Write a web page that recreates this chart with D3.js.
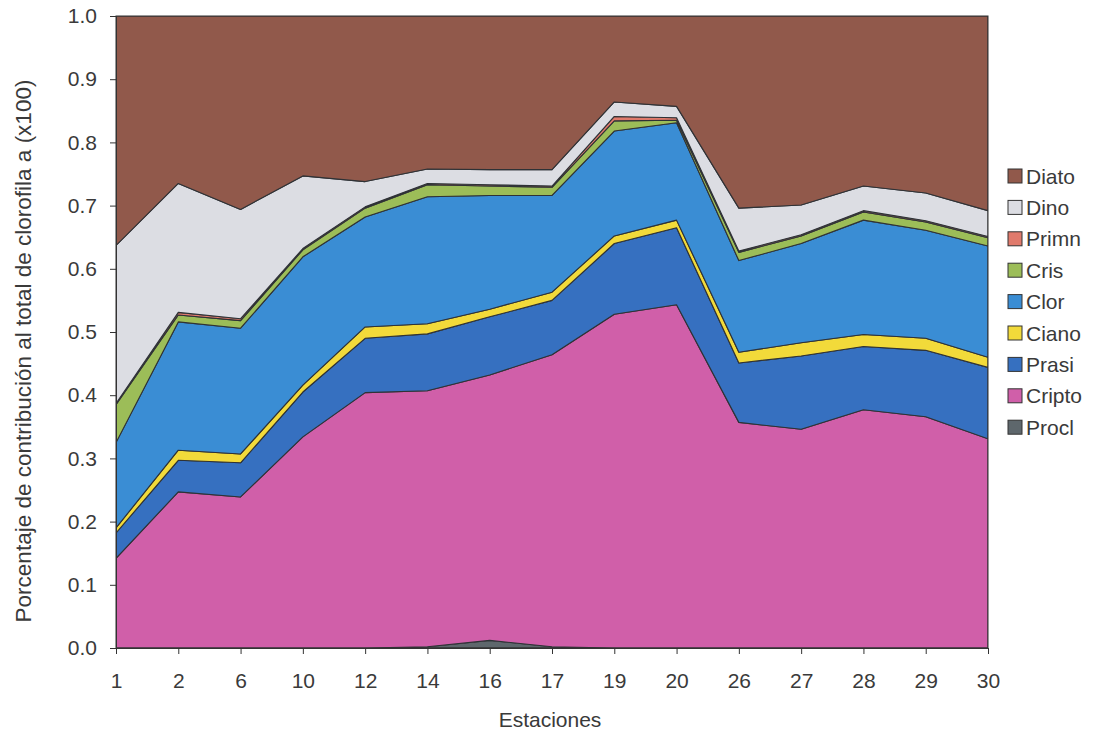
<!DOCTYPE html>
<html>
<head>
<meta charset="utf-8">
<script src="https://cdn.jsdelivr.net/npm/d3@7"></script>
<style>
  html, body { margin: 0; padding: 0; background: #ffffff; }
  svg { display: block; font-family: Arial, "Liberation Sans", sans-serif; }
</style>
</head>
<body>
<svg id="chart" width="1097" height="733"></svg>
<script>
// Stations sampled along the transect
const estaciones = ["1", "2", "6", "10", "12", "14", "16", "17", "19", "20", "26", "27", "28", "29", "30"];

// Fractional contribution of each pigment group to total chlorophyll a
const procl  = [0.000, 0.000, 0.000, 0.000, 0.000, 0.002, 0.012, 0.002, 0.000, 0.000, 0.000, 0.000, 0.000, 0.000, 0.000];
const cripto = [0.142, 0.247, 0.239, 0.334, 0.404, 0.405, 0.420, 0.462, 0.528, 0.543, 0.357, 0.346, 0.377, 0.366, 0.331];
const prasi  = [0.040, 0.050, 0.054, 0.071, 0.086, 0.090, 0.092, 0.086, 0.112, 0.122, 0.094, 0.116, 0.100, 0.105, 0.113];
const ciano  = [0.008, 0.016, 0.014, 0.011, 0.018, 0.016, 0.012, 0.013, 0.012, 0.012, 0.017, 0.021, 0.019, 0.019, 0.016];
const clor   = [0.135, 0.203, 0.199, 0.203, 0.174, 0.201, 0.180, 0.153, 0.166, 0.154, 0.145, 0.157, 0.181, 0.171, 0.176];
const cris   = [0.060, 0.011, 0.012, 0.011, 0.014, 0.019, 0.015, 0.013, 0.016, 0.004, 0.013, 0.012, 0.013, 0.013, 0.013];
const primn  = [0.002, 0.004, 0.003, 0.002, 0.002, 0.002, 0.002, 0.002, 0.007, 0.004, 0.002, 0.002, 0.002, 0.002, 0.002];
const dino   = [0.250, 0.204, 0.173, 0.115, 0.040, 0.023, 0.024, 0.026, 0.023, 0.018, 0.068, 0.047, 0.039, 0.044, 0.041];
const diato  = [0.363, 0.265, 0.306, 0.253, 0.262, 0.242, 0.243, 0.243, 0.136, 0.143, 0.304, 0.299, 0.269, 0.280, 0.308];

// Stacking order, bottom to top
const grupos = ["Procl", "Cripto", "Prasi", "Ciano", "Clor", "Cris", "Primn", "Dino", "Diato"];
const valores = { Procl: procl, Cripto: cripto, Prasi: prasi, Ciano: ciano, Clor: clor, Cris: cris, Primn: primn, Dino: dino, Diato: diato };
const colores = {
  Procl: "#5e676c", Cripto: "#d05fa9", Prasi: "#3670c0", Ciano: "#f2da3a",
  Clor: "#3a8dd4", Cris: "#9cbd58", Primn: "#e07a6c", Dino: "#dcdde3", Diato: "#91594b"
};

const yTicks = ["0.0", "0.1", "0.2", "0.3", "0.4", "0.5", "0.6", "0.7", "0.8", "0.9", "1.0"];

const svg = d3.select("#chart");
const margin = { left: 116, right: 109, top: 16, bottom: 85 };
const W = 1097, H = 733;
const x0 = margin.left, x1 = W - margin.right, y0 = H - margin.bottom, y1 = margin.top;
const textColor = "#3a3a3a";
const fontFam = "Arial, 'Liberation Sans', sans-serif";

const x = d3.scalePoint().domain(estaciones).range([x0, x1]).padding(0);
const y = d3.scaleLinear().domain([0, 1]).range([y0, y1]);

const rows = estaciones.map((e, i) => {
  const r = { estacion: e };
  grupos.forEach(g => { r[g] = valores[g][i]; });
  return r;
});

const series = d3.stack().keys(grupos)(rows);

const area = d3.area()
  .x(d => x(d.data.estacion))
  .y0(d => y(d[0]))
  .y1(d => Math.max(y(1), y(d[1])));

svg.append("clipPath").attr("id", "plotclip")
  .append("rect").attr("x", x0).attr("y", y1).attr("width", x1 - x0).attr("height", y0 - y1);

svg.append("g").attr("clip-path", "url(#plotclip)")
  .selectAll("path")
  .data(series)
  .join("path")
  .attr("d", area)
  .attr("fill", d => colores[d.key])
  .attr("stroke", "#2f3236")
  .attr("stroke-width", 1.1)
  .attr("stroke-linejoin", "round");

// Plot frame
svg.append("rect")
  .attr("x", x0).attr("y", y1)
  .attr("width", x1 - x0).attr("height", y0 - y1)
  .attr("fill", "none").attr("stroke", "#333").attr("stroke-width", 1);

// Axes
const yAxis = d3.axisLeft(y)
  .tickValues(yTicks.map(Number))
  .tickFormat((d, i) => yTicks[i])
  .tickSize(6).tickPadding(13);
const gy = svg.append("g").attr("transform", `translate(${x0},0)`).call(yAxis);
gy.select(".domain").attr("stroke", "#333");
gy.selectAll(".tick line").attr("stroke", "#333");
gy.selectAll(".tick text").attr("font-size", 21).attr("fill", textColor)
  .attr("font-family", fontFam);

const xAxis = d3.axisBottom(x).tickSize(6).tickPadding(19);
const gx = svg.append("g").attr("transform", `translate(0,${y0})`).call(xAxis);
gx.select(".domain").attr("stroke", "#333");
gx.selectAll(".tick line").attr("stroke", "#333");
gx.selectAll(".tick text").attr("font-size", 21).attr("fill", textColor)
  .attr("font-family", fontFam);

// Axis titles
svg.append("text")
  .attr("x", 550).attr("y", 727)
  .attr("text-anchor", "middle").attr("font-size", 21).attr("fill", textColor)
  .text("Estaciones");

svg.append("text")
  .attr("transform", "translate(31,351) rotate(-90)")
  .attr("text-anchor", "middle").attr("font-size", 22.5).attr("fill", textColor)
  .text("Porcentaje de contribución al total de clorofila a (x100)");

// Legend: top entry is the top layer of the stack
const legend = svg.append("g").attr("transform", "translate(1008,169)");
const leg = legend.selectAll("g")
  .data(grupos.slice().reverse())
  .join("g")
  .attr("transform", (d, i) => `translate(0,${i * 31.4})`);
leg.append("rect")
  .attr("x", 0).attr("y", 0).attr("width", 14).attr("height", 14)
  .attr("fill", d => colores[d]).attr("stroke", "#333").attr("stroke-width", 1);
leg.append("text")
  .attr("x", 18).attr("y", 14.5)
  .attr("font-size", 21).attr("fill", textColor)
  .text(d => d);
</script>
</body>
</html>
